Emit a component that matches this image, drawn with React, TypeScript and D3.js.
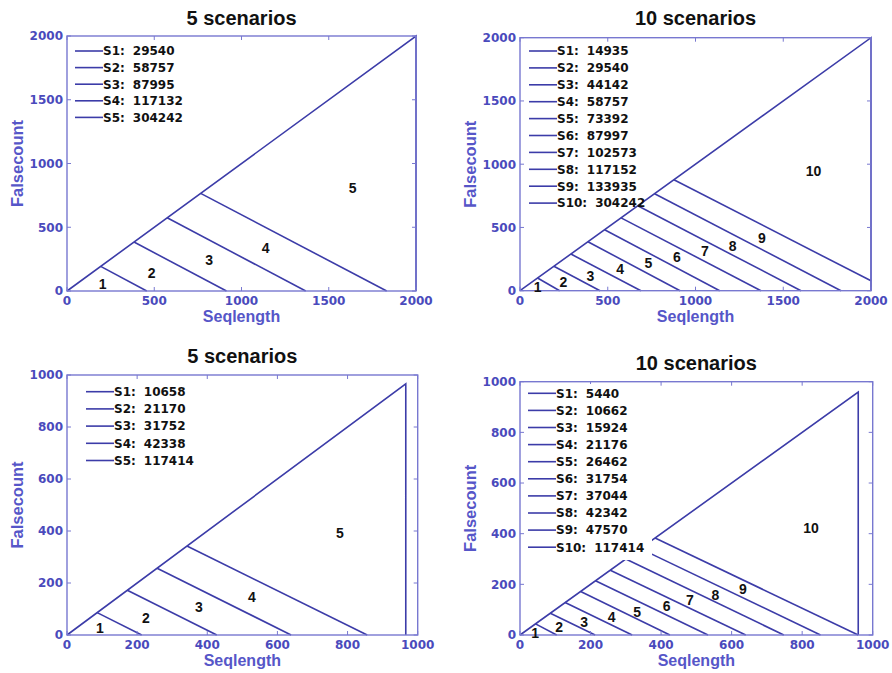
import React from "react";
import * as d3 from "d3";

// titles and tick values
const titles = ["5 scenarios", "10 scenarios", "5 scenarios", "10 scenarios"];
const ticks2000 = [0, 500, 1000, 1500, 2000];
const ticks1000 = [0, 200, 400, 600, 800, 1000];

// top left: 5 scenarios
const legendA = ["29540", "58757", "87995", "117132", "304242"];
const cutStartA = [193, 384, 574, 766];
const cutEndA = [457, 914, 1368, 1832];
const cutEndYA = [0, 0, 0, 0];
const zoneXA = [205, 485, 815, 1138, 1637];
const zoneYA = [55, 139, 243, 334, 812];
const apexA = 2000;

// top right: 10 scenarios
const legendB = ["14935", "29540", "44142", "58757", "73392", "87997", "102573", "117152", "133935", "304242"];
const cutStartB = [100, 193, 290, 387, 482, 576, 671, 767, 877];
const cutEndB = [226, 456, 689, 912, 1138, 1373, 1601, 1829, 2000];
const cutEndYB = [0, 0, 0, 0, 0, 0, 0, 0, 78];
const zoneXB = [101, 247, 401, 571, 731, 894, 1054, 1212, 1379, 1673];
const zoneYB = [32, 71, 116, 169, 216, 264, 316, 356, 419, 948];
const apexB = 2000;

// bottom left: 5 scenarios
const legendC = ["10658", "21170", "31752", "42338", "117414"];
const cutStartC = [86, 172, 257, 342];
const cutEndC = [213, 427, 639, 856];
const cutEndYC = [0, 0, 0, 0];
const zoneXC = [94, 225, 376, 527, 778];
const zoneYC = [26, 64, 109, 147, 391];
const apexC = 966;

// bottom right: 10 scenarios
const legendD = ["5440", "10662", "15924", "21176", "26462", "31754", "37044", "42342", "47570", "117414"];
const cutStartD = [44, 86, 128, 172, 214, 256, 300, 341, 383];
const cutEndD = [104, 213, 318, 425, 533, 640, 748, 852, 959];
const cutEndYD = [0, 0, 0, 0, 0, 0, 0, 0, 0];
const zoneXD = [43, 111, 182, 260, 332, 416, 482, 554, 632, 825];
const zoneYD = [7, 30, 52, 72, 92, 115, 138, 158, 180, 421];
const apexD = 959;

const LINE = "#3c3ca8";
const FRAME = "#7878d0";
const TICKTXT = "#4a4abc";
const LABEL = "#5656c8";

const panels = [
  { title: titles[0], max: 2000, ticks: ticks2000, legend: legendA, start: cutStartA, end: cutEndA, endY: cutEndYA, zx: zoneXA, zy: zoneYA, apex: apexA,
    box: [67, 416, 36, 291], titleY: 24.5, lx: 75, ly: 51, lstep: 16.6, bg: null },
  { title: titles[1], max: 2000, ticks: ticks2000, legend: legendB, start: cutStartB, end: cutEndB, endY: cutEndYB, zx: zoneXB, zy: zoneYB, apex: apexB,
    box: [520, 871, 37.7, 290.7], titleY: 25, lx: 529, ly: 51, lstep: 16.9, bg: null },
  { title: titles[2], max: 1000, ticks: ticks1000, legend: legendC, start: cutStartC, end: cutEndC, endY: cutEndYC, zx: zoneXC, zy: zoneYC, apex: apexC,
    box: [67, 417.7, 375, 635], titleY: 363, lx: 86, ly: 391.7, lstep: 17.2, bg: null },
  { title: titles[3], max: 1000, ticks: ticks1000, legend: legendD, start: cutStartD, end: cutEndD, endY: cutEndYD, zx: zoneXD, zy: zoneYD, apex: apexD,
    box: [520, 872.7, 381.7, 635], titleY: 370, lx: 528, ly: 393.3, lstep: 17.1, bg: [524, 384, 128, 176] },
];

const Panel = ({ p }: { p: any }) => {
  const [left, right, top, bottom] = p.box;
  const x = d3.scaleLinear().domain([0, p.max]).range([left, right]);
  const y = d3.scaleLinear().domain([0, p.max]).range([bottom, top]);
  const line = d3.line<[number, number]>().x((d) => x(d[0])).y((d) => y(d[1]));
  const cx = (left + right) / 2;
  const cy = (top + bottom) / 2;
  const tickLen = 4;

  return (
    <g>
      <text x={cx} y={p.titleY} textAnchor="middle" fontFamily="Liberation Sans, Arial, sans-serif" fontWeight="bold" fontSize={20} fill="#111">
        {p.title}
      </text>

      {/* triangle outline and scenario splits */}
      <path d={line([[0, 0], [p.apex, p.apex], [p.apex, 0]]) || ""} fill="none" stroke={LINE} strokeWidth={1.6} />
      {p.start.map((s: number, i: number) => (
        <path key={i} d={line([[s, s], [p.end[i], p.endY[i]]]) || ""} fill="none" stroke={LINE} strokeWidth={1.6} />
      ))}

      {/* frame with inward ticks on all sides */}
      <rect x={left} y={top} width={right - left} height={bottom - top} fill="none" stroke={FRAME} strokeWidth={1.4} />
      {p.ticks.map((t: number) => (
        <g key={t}>
          <line x1={x(t)} x2={x(t)} y1={bottom} y2={bottom - tickLen} stroke={FRAME} />
          <line x1={x(t)} x2={x(t)} y1={top} y2={top + tickLen} stroke={FRAME} />
          <line x1={left} x2={left + tickLen} y1={y(t)} y2={y(t)} stroke={FRAME} />
          <line x1={right} x2={right - tickLen} y1={y(t)} y2={y(t)} stroke={FRAME} />
          <text x={x(t)} y={bottom + 14} textAnchor="middle" fontFamily="DejaVu Sans, sans-serif" fontWeight="bold" fontSize={12} fill={TICKTXT}>
            {t}
          </text>
          <text x={left - 4} y={y(t)} dy="0.36em" textAnchor="end" fontFamily="DejaVu Sans, sans-serif" fontWeight="bold" fontSize={12} fill={TICKTXT}>
            {t}
          </text>
        </g>
      ))}

      <text x={cx} y={bottom + 31} textAnchor="middle" fontFamily="Liberation Sans, Arial, sans-serif" fontWeight="bold" fontSize={16} fill={LABEL}>
        Seqlength
      </text>
      <text transform={`translate(${left - 44},${cy}) rotate(-90)`} textAnchor="middle" fontFamily="Liberation Sans, Arial, sans-serif" fontWeight="bold" fontSize={16.5} fill={LABEL}>
        Falsecount
      </text>

      {/* zone numbers */}
      {p.zx.map((zx: number, i: number) => (
        <text key={i} x={x(zx)} y={y(p.zy[i])} dy="0.36em" textAnchor="middle" fontFamily="Liberation Sans, Arial, sans-serif" fontWeight="bold" fontSize={14} fill="#111">
          {i + 1}
        </text>
      ))}

      {/* legend */}
      {p.bg && <rect x={p.bg[0]} y={p.bg[1]} width={p.bg[2]} height={p.bg[3]} fill="#fff" />}
      {p.legend.map((v: string, i: number) => {
        const ly = p.ly + i * p.lstep;
        return (
          <g key={i}>
            <line x1={p.lx} x2={p.lx + 28} y1={ly} y2={ly} stroke={LINE} strokeWidth={1.6} />
            <text x={p.lx + 28} y={ly} dy="0.36em" fontFamily="DejaVu Sans, sans-serif" fontWeight="bold" fontSize={12} fill="#111">
              <tspan>{`S${i + 1}:`}</tspan>
              <tspan dx={8}>{v}</tspan>
            </text>
          </g>
        );
      })}
    </g>
  );
};

export default function App() {
  return (
    <svg width={892} height={673} style={{ position: "absolute", left: 0, top: 0, background: "#fff" }}>
      <rect width={892} height={673} fill="#fff" />
      {panels.map((p, i) => (
        <Panel key={i} p={p} />
      ))}
    </svg>
  );
}
